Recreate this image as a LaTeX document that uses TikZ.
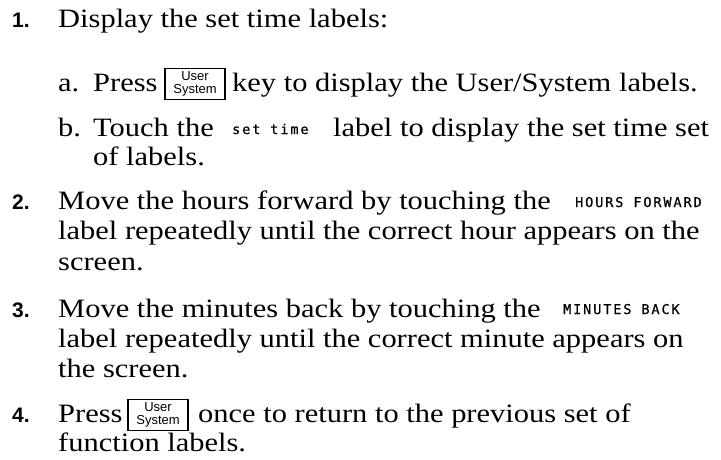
\documentclass[tikz,border=0pt]{standalone}
\usepackage{fontspec}
\setmainfont{Liberation Serif}[FakeStretch=1.15]
\newfontfamily\numfont{Liberation Sans}
\newfontfamily\keyfont{Liberation Sans}
\newfontfamily\lcdfont{DejaVu Sans Mono}[LetterSpace=14, FakeBold=0.6]

\tikzset{
  txt/.style={anchor=base west, inner sep=0pt, font=\fontsize{26.5}{30}\selectfont},
  num/.style={anchor=base west, inner sep=0pt, font=\numfont\bfseries\fontsize{21}{24}\selectfont},
  lcd/.style={anchor=base west, inner sep=0pt, font=\lcdfont\fontsize{13.5}{15}\selectfont},
  keycap/.style={draw, line width=1.1pt, minimum width=60pt, minimum height=31pt,
    inner sep=0pt, align=center, font=\keyfont\fontsize{13}{12.5}\selectfont},
}

\begin{document}
\begin{tikzpicture}[x=1pt, y=-1pt]
  \useasboundingbox[fill=white] (0,0) rectangle (721,459);

  % Step 1
  \node[num] (n1) at (12,27) {1.};
  \node[txt] (s1) at (58,27) {Display the set time labels:};
  \node[txt] (s1a) at (58,91) {a.};
  \node[txt] (s1ap) at (93,91) {Press};
  \node[keycap] (key1) at (195,84) {User\\System};
  \node[txt] (s1ar) at (232,91) {key to display the User/System labels.};
  \node[txt] (s1b) at (58,136) {b.};
  \node[txt] (s1bt) at (93,136) {Touch the};
  \node[lcd] (lset) at (232,134) {set time};
  \node[txt] (s1br) at (333,136) {label to display the set time set};
  \node[txt] (s1bc) at (93,165) {of labels.};

  % Step 2
  \node[num] (n2) at (12,209) {2.};
  \node[txt] (s2) at (58,209) {Move the hours forward by touching the};
  \node[lcd] (lhrs) at (575,207) {HOURS FORWARD};
  \node[txt] (s2b) at (58,239) {label repeatedly until the correct hour appears on the};
  \node[txt] (s2c) at (58,270) {screen.};

  % Step 3
  \node[num] (n3) at (12,317) {3.};
  \node[txt] (s3) at (58,317) {Move the minutes back by touching the};
  \node[lcd] (lmin) at (563,314) {MINUTES BACK};
  \node[txt] (s3b) at (58,347) {label repeatedly until the correct minute appears on};
  \node[txt] (s3c) at (58,377) {the screen.};

  % Step 4
  \node[num] (n4) at (12,422) {4.};
  \node[txt] (s4p) at (58,422) {Press};
  \node[keycap] (key2) at (158,415) {User\\System};
  \node[txt] (s4) at (198,422) {once to return to the previous set of};
  \node[txt] (s4b) at (58,451) {function labels.};
\end{tikzpicture}
\end{document}
